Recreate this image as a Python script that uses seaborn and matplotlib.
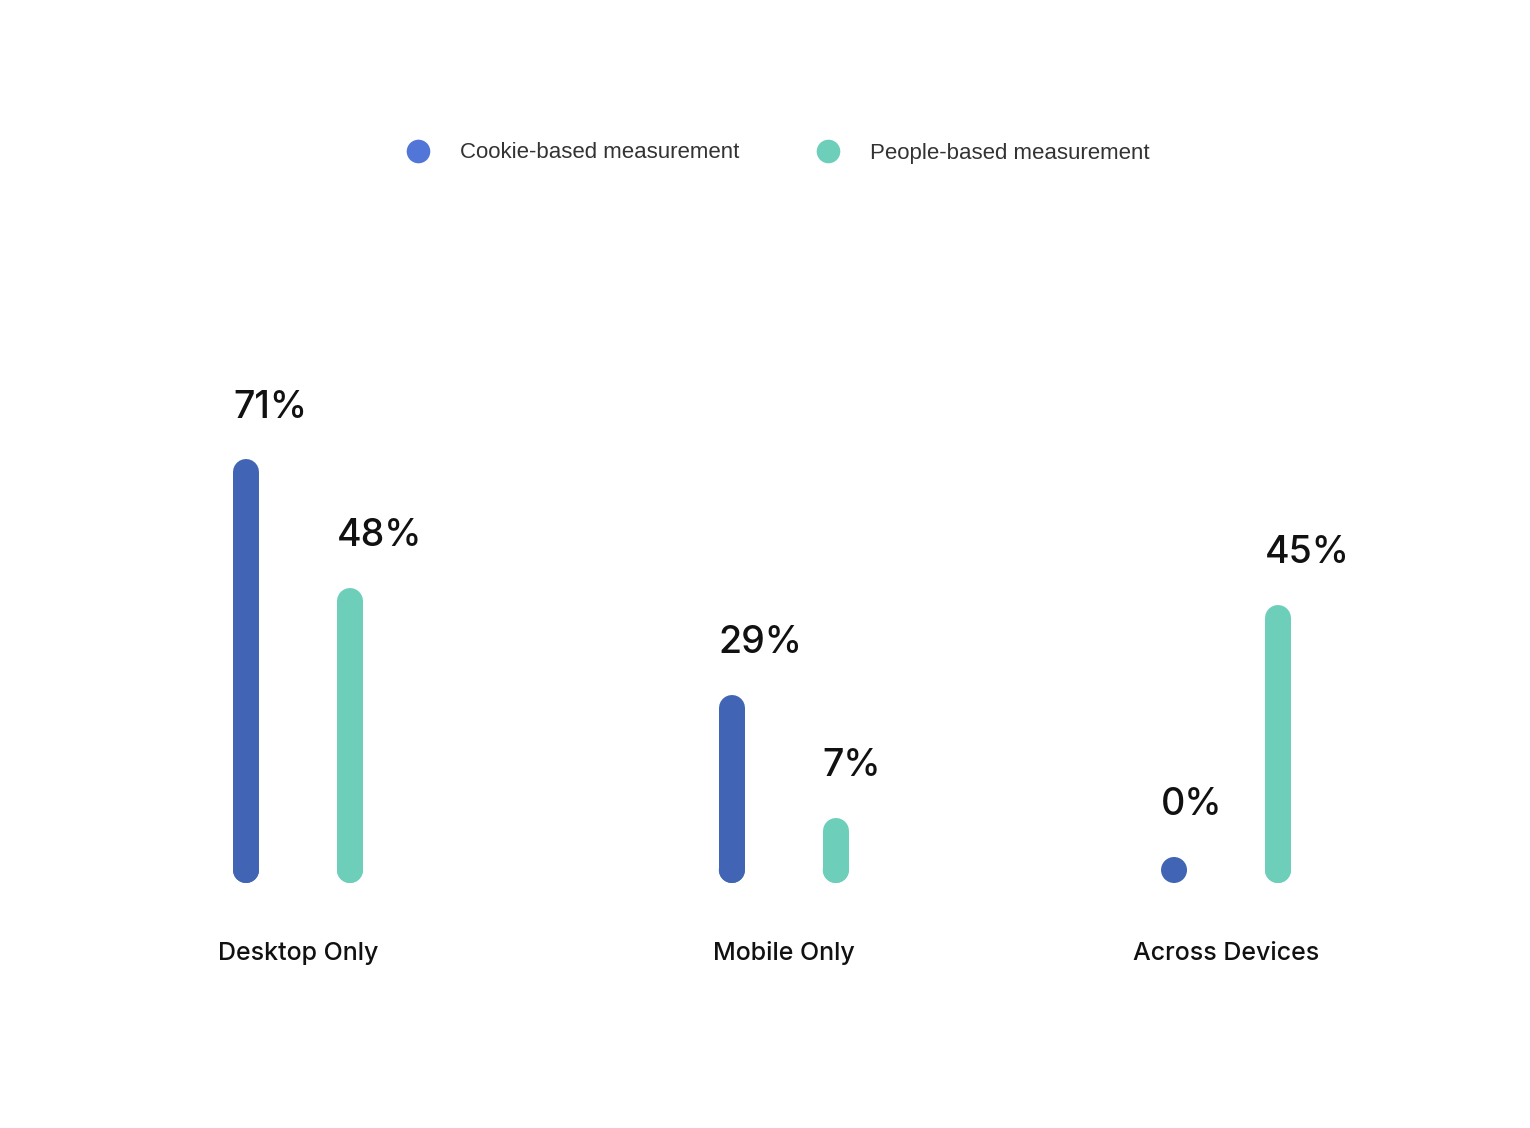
import matplotlib
matplotlib.use("Agg")
import matplotlib.pyplot as plt
from matplotlib.lines import Line2D
import pandas as pd
import seaborn as sns

categories = ["Desktop Only", "Mobile Only", "Across Devices"]
cookie_vals = [71, 29, 0]
people_vals = [48, 7, 45]
series_names = ["Cookie-based measurement", "People-based measurement"]

bar_colors = {"Cookie-based measurement": "#4165b4", "People-based measurement": "#6dcfba"}
legend_colors = {"Cookie-based measurement": "#5275d8", "People-based measurement": "#6dcfba"}

# group centres on the x axis (the middle group sits a bit right of centre in the original)
group_pos = [0, 1.047, 2]

sns.set_theme(style="white")
plt.rcParams["font.family"] = ["Inter", "DejaVu Sans"]

rows = []
for i, cat in enumerate(categories):
    rows.append({"category": cat, "series": series_names[0], "value": cookie_vals[i], "x": group_pos[i] - 0.112})
    rows.append({"category": cat, "series": series_names[1], "value": people_vals[i], "x": group_pos[i] + 0.112})
df = pd.DataFrame(rows)

fig = plt.figure(figsize=(15.3, 11.28), dpi=100)
ax = fig.add_axes([0, 0, 1, 1])

lw_pt = 26 * 72 / 100  # bar thickness ~26px
for s in series_names:
    d = df[df["series"] == s]
    lc = ax.vlines(d["x"], 0, d["value"], colors=bar_colors[s], linewidth=lw_pt)
    lc.set_capstyle("round")

# round base so 0% still shows as a dot
sns.scatterplot(data=df, x="x", y=[0] * len(df), hue="series", palette=bar_colors,
                s=lw_pt ** 2, linewidth=0, legend=False, ax=ax, zorder=3)

for _, r in df.iterrows():
    ax.annotate(f"{r['value']}%", (r["x"], r["value"]), xytext=(-9.4, 39.5),
                textcoords="offset points", ha="left", va="baseline",
                fontsize=27, fontweight="medium", color="#111111")

for i, cat in enumerate(categories):
    ax.annotate(cat, (group_pos[i], 0), xytext=(0, -60), textcoords="offset points",
                ha="center", va="center", fontsize=18, fontweight="medium", color="#111111")

px_per_unit = 464
scale = 5.6
ax.set_xlim(-298 / px_per_unit, 2 + (1530 - 1226) / px_per_unit)
ax.set_ylim(-258 / scale, 870 / scale)
ax.axis("off")

handles = [Line2D([], [], marker="o", linestyle="", markersize=17,
                  markerfacecolor=legend_colors[s], markeredgewidth=0) for s in series_names]
fig.legend(handles, series_names, loc="center", bbox_to_anchor=(0.505, 1 - 153 / 1128),
           ncol=2, frameon=False, prop={"family": ["Liberation Sans"], "size": 16},
           labelcolor="#333333", handletextpad=0.9, columnspacing=3.0)

fig.savefig("out.png", dpi=100, facecolor="white")
